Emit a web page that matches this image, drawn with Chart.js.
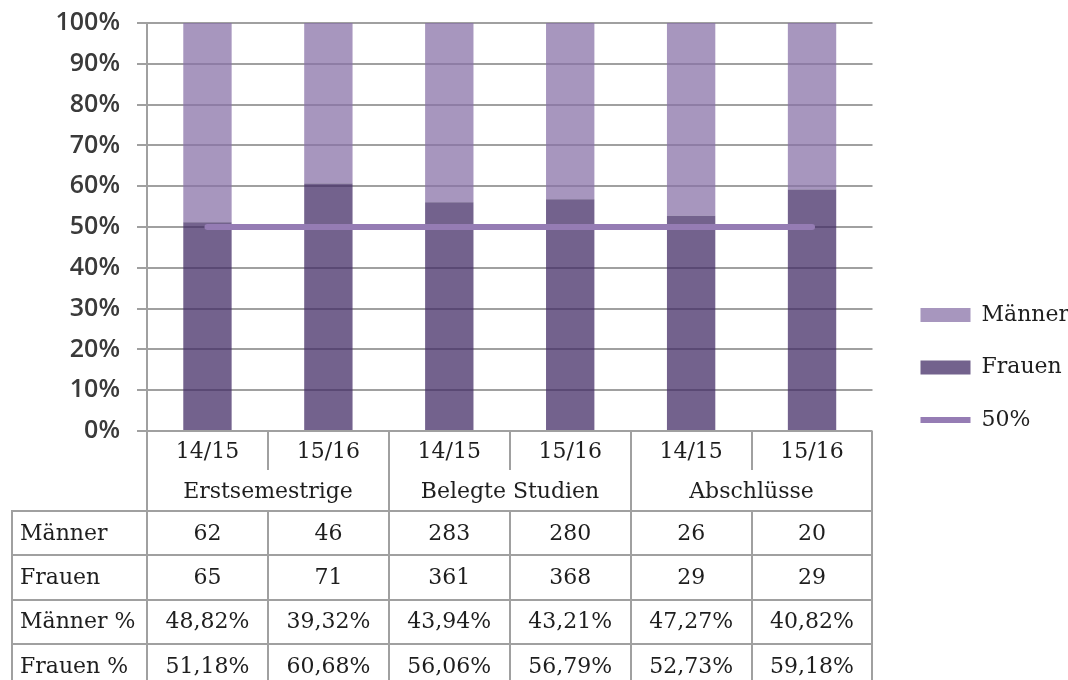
<!DOCTYPE html>
<html lang="de">
<head>
<meta charset="utf-8">
<title>Frauen und Männer</title>
<script src="https://cdn.jsdelivr.net/npm/chart.js@4.4.1/dist/chart.umd.min.js"></script>
<style>
  html, body { margin: 0; padding: 0; background: #fff; }
</style>
</head>
<body>
<canvas id="myChart" width="1068" height="680"></canvas>
<script>
// Kategorien: Studienjahre, je zwei pro Gruppe
const jahre = ['14/15', '15/16', '14/15', '15/16', '14/15', '15/16'];
const gruppen = ['Erstsemestrige', 'Belegte Studien', 'Abschlüsse'];

// Absolute Zahlen
const maenner = [62, 46, 283, 280, 26, 20];
const frauen = [65, 71, 361, 368, 29, 29];

// Anteile in Prozent
const maennerProzent = [48.82, 39.32, 43.94, 43.21, 47.27, 40.82];
const frauenProzent = [51.18, 60.68, 56.06, 56.79, 52.73, 59.18];

// Referenzlinie 50%
const linie50 = [50, 50, 50, 50, 50, 50];

// Farben
const farbeMaenner = 'rgba(136, 114, 167, 0.74)';
const farbeFrauen = 'rgba(66, 43, 101, 0.74)';
const farbeLinie = '#957cb4';
const farbeGitter = '#a0a0a0';
const farbeText = '#1e1e1e';

// Reihenfolge in der Legende (Dataset-Index)
const legendeFolge = [1, 0, 2];

Chart.defaults.font.family = '"DejaVu Serif", serif';

const fmt = v => v.toFixed(2).replace('.', ',') + '%';

// Datentabelle unter dem Diagramm, an den Spalten der x-Achse ausgerichtet
const tabelle = {
    id: 'tabelle',
    afterDraw(chart) {
        const { ctx, chartArea } = chart;
        const x = chart.scales.x;
        const n = jahre.length;
        const halb = (x.getPixelForValue(1) - x.getPixelForValue(0)) / 2;
        const kante = i => Math.round(x.getPixelForValue(i) - halb); // linke Kante der Spalte i
        const oben = chartArea.bottom;
        const yJahr = oben + 39;    // Unterkante der Jahreszeile
        const yGruppe = oben + 80;  // Unterkante der Gruppenzeile
        const zeilenH = 44.3;
        const tabLinks = 12;
        const unten = chart.height;

        const zeilen = [
            ['Männer', maenner.map(String)],
            ['Frauen', frauen.map(String)],
            ['Männer %', maennerProzent.map(fmt)],
            ['Frauen %', frauenProzent.map(fmt)]
        ];

        ctx.save();
        ctx.strokeStyle = farbeGitter;
        ctx.lineWidth = 2;
        const linie = (x1, y1, x2, y2) => {
            ctx.beginPath();
            ctx.moveTo(x1, y1);
            ctx.lineTo(x2, y2);
            ctx.stroke();
        };

        // senkrechte Linien
        for (let i = 0; i <= n; i++) {
            const xl = kante(i);
            if (i % 2 === 0) {
                linie(xl, oben, xl, unten);
            } else {
                linie(xl, oben, xl, yJahr);
                linie(xl, yGruppe, xl, unten);
            }
        }
        linie(tabLinks, yGruppe - 1, tabLinks, unten);

        // waagrechte Linien
        for (let r = 0; r < zeilen.length; r++) {
            const y = Math.round(yGruppe + r * zeilenH);
            linie(tabLinks - 1, y, kante(n) + 1, y);
        }

        // Texte
        ctx.fillStyle = farbeText;
        ctx.font = '22px "DejaVu Serif", serif';
        ctx.textBaseline = 'middle';
        ctx.textAlign = 'center';
        jahre.forEach((j, i) => {
            ctx.fillText(j, x.getPixelForValue(i), (oben + yJahr) / 2 + 2);
        });
        gruppen.forEach((g, k) => {
            ctx.fillText(g, (kante(2 * k) + kante(2 * k + 2)) / 2, (yJahr + yGruppe) / 2 + 2);
        });
        zeilen.forEach((zeile, r) => {
            const ym = yGruppe + (r + 0.5) * zeilenH + 1;
            ctx.textAlign = 'left';
            ctx.fillText(zeile[0], 20, ym);
            ctx.textAlign = 'center';
            zeile[1].forEach((t, i) => ctx.fillText(t, x.getPixelForValue(i), ym));
        });
        ctx.restore();
    }
};

const ctx = document.getElementById('myChart').getContext('2d');
const myChart = new Chart(ctx, {
    type: 'bar',
    data: {
        labels: jahre,
        datasets: [
            {
                label: 'Frauen',
                data: frauenProzent,
                backgroundColor: farbeFrauen,
                borderWidth: 0,
                stack: 'anteil',
                categoryPercentage: 1,
                barPercentage: 0.4
            },
            {
                label: 'Männer',
                data: maennerProzent,
                backgroundColor: farbeMaenner,
                borderWidth: 0,
                stack: 'anteil',
                categoryPercentage: 1,
                barPercentage: 0.4
            },
            {
                type: 'line',
                label: '50%',
                data: linie50,
                borderColor: farbeLinie,
                backgroundColor: farbeLinie,
                borderWidth: 6,
                borderCapStyle: 'round',
                pointRadius: 0,
                stack: 'referenz',
                order: -1
            }
        ]
    },
    options: {
        responsive: false,
        animation: false,
        layout: { padding: { top: 23, left: 0, right: 0, bottom: 218.5 } },
        scales: {
            x: {
                stacked: true,
                grid: { display: false },
                border: { display: false },
                ticks: { display: false },
                afterFit: s => { s.height = 30.5; }
            },
            y: {
                stacked: true,
                min: 0,
                max: 100,
                grid: { color: farbeGitter, lineWidth: 2, tickLength: 10 },
                border: { color: farbeGitter, width: 2 },
                ticks: {
                    stepSize: 10,
                    padding: 17,
                    color: '#3a3a3a',
                    font: { family: '"Open Sans"', weight: 600, size: 25 },
                    callback: v => v + '%'
                },
                afterFit: s => {
                    s.width = 147;
                    // kein Zusatzrand für die Beschriftung oben/unten
                    s.paddingTop = 0;
                    s.paddingBottom = 0;
                }
            },
            // Abstand zwischen Diagramm und Legende
            rand: {
                type: 'linear',
                position: 'right',
                grid: { display: false },
                border: { display: false },
                ticks: { display: false },
                afterFit: s => { s.width = 17.5; }
            }
        },
        plugins: {
            tooltip: { enabled: false },
            legend: {
                position: 'right',
                align: 'end',
                labels: {
                    usePointStyle: true,
                    pointStyleWidth: 50,
                    boxHeight: 14,
                    padding: 30.5,
                    color: farbeText,
                    font: { size: 22 },
                    sort: (a, b) => legendeFolge.indexOf(a.datasetIndex) - legendeFolge.indexOf(b.datasetIndex),
                    generateLabels(chart) {
                        const items = Chart.defaults.plugins.legend.labels.generateLabels(chart);
                        items.forEach(it => {
                            it.pointStyle = it.datasetIndex === 2 ? 'line' : 'rect';
                        });
                        return items;
                    }
                }
            }
        }
    },
    plugins: [tabelle]
});
</script>
</body>
</html>
